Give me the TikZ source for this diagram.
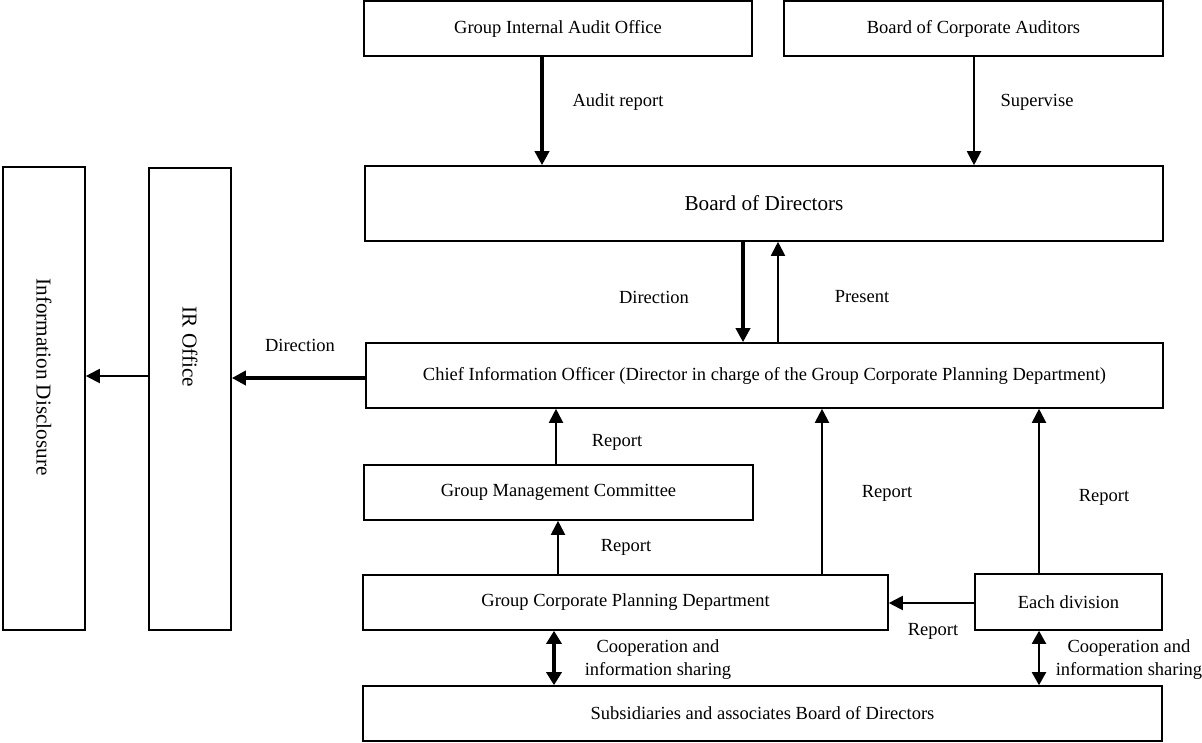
\documentclass[tikz,border=0pt]{standalone}
\usepackage{fontspec}
\setmainfont{Liberation Serif}
\usetikzlibrary{arrows.meta}
\begin{document}
\begin{tikzpicture}[x=1pt,y=-1pt,
  box/.style={draw, line width=1.6pt, rectangle, inner sep=0pt, align=center,
    font=\fontsize{18.5}{22}\selectfont},
  bigbox/.style={box, font=\fontsize{21.2}{25}\selectfont},
  lbl/.style={inner sep=0pt, align=center, font=\fontsize{18.5}{23}\selectfont},
  vlbl/.style={inner sep=0pt, rotate=-90, font=\fontsize{21.2}{25}\selectfont},
  arrthin/.style={line width=2pt, -{Triangle[length=14pt,width=14pt]}},
  arrthick/.style={line width=3.5pt, -{Triangle[length=14pt,width=14pt]}},
  bithin/.style={line width=2pt, {Triangle[length=13pt,width=14pt]}-{Triangle[length=13pt,width=14pt]}},
  bithick/.style={line width=3.5pt, {Triangle[length=13pt,width=15pt]}-{Triangle[length=13pt,width=15pt]}},
]
\useasboundingbox (0,0) rectangle (1202,742);

% boxes
\node[box, minimum width=388pt, minimum height=55pt] (giao) at (558,28.5) {Group Internal Audit Office};
\node[box, minimum width=379pt, minimum height=55pt] (bca) at (973.5,28.5) {Board of Corporate Auditors};
\node[bigbox, minimum width=798pt, minimum height=75pt] (bod) at (764,203.5) {Board of Directors};
\node[box, minimum width=797pt, minimum height=65pt] (cio) at (764.5,375.5) {Chief Information Officer (Director in charge of the Group Corporate Planning Department)};
\node[box, minimum width=389pt, minimum height=55pt] (gmc) at (558.5,492.5) {Group Management Committee};
\node[box, minimum width=525pt, minimum height=55pt] (gcpd) at (625.5,602.5) {Group Corporate Planning Department};
\node[box, minimum width=187pt, minimum height=56pt] (ed) at (1068.5,602) {Each division};
\node[box, minimum width=799pt, minimum height=55pt] (subs) at (762.5,713.5) {Subsidiaries and associates Board of Directors};
\node[box, minimum width=82pt, minimum height=462pt] (ir) at (190,399) {};
\node[box, minimum width=82pt, minimum height=463pt] (id) at (44,398.5) {};
\node[vlbl] (irt) at (190,347) {IR Office};
\node[vlbl] (idt) at (44,377) {Information Disclosure};

% connectors
\draw[arrthick] (542,0 |- giao.south) -- (542,0 |- bod.north);
\draw[arrthin] (974,0 |- bca.south) -- (974,0 |- bod.north);
\draw[arrthick] (743,0 |- bod.south) -- (743,0 |- cio.north);
\draw[arrthin] (778,0 |- cio.north) -- (778,0 |- bod.south);
\draw[arrthick] (cio.west |- 0,378) -- (ir.east |- 0,378);
\draw[arrthin] (ir.west |- 0,376) -- (id.east |- 0,376);
\draw[arrthin] (556,0 |- gmc.north) -- (556,0 |- cio.south);
\draw[arrthin] (558,0 |- gcpd.north) -- (558,0 |- gmc.south);
\draw[arrthin] (822,0 |- gcpd.north) -- (822,0 |- cio.south);
\draw[arrthin] (1039,0 |- ed.north) -- (1039,0 |- cio.south);
\draw[arrthin] (ed.west |- 0,603) -- (gcpd.east |- 0,603);
\draw[bithick] (554,0 |- gcpd.south) -- (554,0 |- subs.north);
\draw[bithin] (1039,0 |- ed.south) -- (1039,0 |- subs.north);

% labels
\node[lbl] (l1) at (618,102) {Audit report};
\node[lbl] (l2) at (1037,102) {Supervise};
\node[lbl] (l3) at (654,297) {Direction};
\node[lbl] (l4) at (862,297) {Present};
\node[lbl] (l5) at (300,345) {Direction};
\node[lbl] (l6) at (617,442) {Report};
\node[lbl] (l7) at (626,547) {Report};
\node[lbl] (l8) at (887,493) {Report};
\node[lbl] (l9) at (1104,497) {Report};
\node[lbl] (l10) at (933,631) {Report};
\node[lbl] (l11) at (658,660) {Cooperation and\\information sharing};
\node[lbl] (l12) at (1129,660) {Cooperation and\\information sharing};
\end{tikzpicture}
\end{document}
